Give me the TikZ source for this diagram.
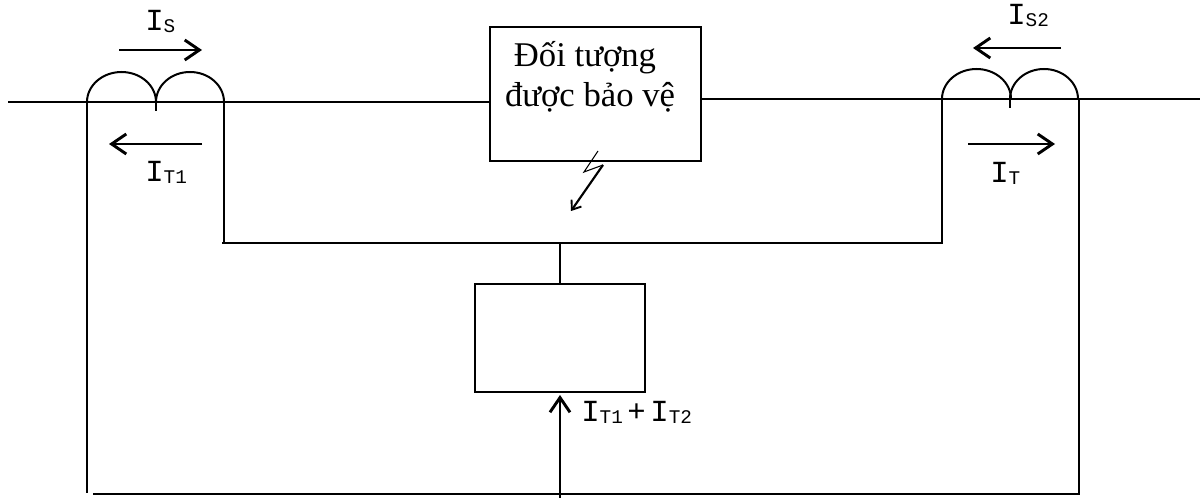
\documentclass[tikz,border=0pt]{standalone}
\usepackage{fontspec}
\setmainfont{Liberation Serif}
\newfontfamily\monofont{Liberation Mono}
\usetikzlibrary{calc,arrows.meta}

\newcommand{\curI}[1]{{\fontsize{23}{23}\monofont I\lower1pt\hbox{\fontsize{14.5}{14.5}\monofont #1}}}

\tikzset{
  wire/.style={line width=1.5pt},
  flow/.style={line width=2.2pt,-{Straight Barb[length=11pt,width=15pt,line width=2.2pt]}},
  lbl/.style={inner sep=0pt,anchor=base west}
}

\begin{document}
\begin{tikzpicture}[x=0.75pt,y=-0.75pt]
  \useasboundingbox (0,0) rectangle (1203,498);

  %% Boxes
  \node[draw,wire,inner sep=0pt,minimum width=158.25pt,minimum height=100.5pt] (PROT) at (595,94) {};
  \node[draw,wire,inner sep=0pt,minimum width=127.5pt,minimum height=81pt] (RELAY) at (560,338) {};
  \node[align=center,inner sep=0pt,font=\fontsize{26}{30}\selectfont,anchor=base] (PROTTXT) at (590,107) {Đối tượng\hspace*{7.5pt}\null\\được bảo vệ};

  %% Current transformers: left end, middle, right end, line height
  \foreach \n/\a/\b/\c/\y in {L/87/156/224/102,R/942/1010/1079/99}
  {
    \coordinate (\n A) at (\a,\y);
    \coordinate (\n B) at (\b,\y);
    \coordinate (\n C) at (\c,\y);
    \coordinate (\n T) at (\b,\y+9);
    \draw[wire] (\n A) arc[start angle=180,end angle=0,x radius=34.5*0.75pt,y radius=30*0.75pt];
    \draw[wire] (\n B) arc[start angle=180,end angle=0,x radius=34*0.75pt,y radius=30*0.75pt];
    \draw[wire] (\n B) -- (\n T);
  }

  %% Main line
  \coordinate (LINEL) at (8,102);
  \coordinate (LINER) at (1200,99);
  \draw[line width=1.1pt] (LINEL) -- (PROT.west|-LINEL);
  \draw[line width=1.1pt] (PROT.east|-LINER) -- (LINER);

  %% Secondary wiring
  \coordinate (TOPL) at (222,243);
  \coordinate (TOPR) at (942,243);
  \coordinate (TOPM) at (560,243);
  \coordinate (BOTL) at (87,493);
  \coordinate (BOTS) at (93,494);
  \coordinate (BOTR) at (1079,494);
  \coordinate (BOTM) at (560,498);
  \draw[wire] (LA) -- (BOTL);
  \draw[wire] (LC) -- (LC|-TOPL);
  \draw[wire] (TOPL) -- (TOPR) -- (RA);
  \draw[wire] (RC) -- (BOTR) -- (BOTS);
  \draw[wire] (TOPM) -- (RELAY.north-|TOPM);
  \draw[flow] (BOTM) -- ($(RELAY.south-|BOTM)+(0,2)$);

  %% Current arrows
  \coordinate (ISs) at (119,50);   \coordinate (ISe) at (202,50);
  \coordinate (ITAs) at (202,144); \coordinate (ITAe) at (109,144);
  \coordinate (ISBs) at (1061,48); \coordinate (ISBe) at (973,48);
  \coordinate (ITs) at (968,144);  \coordinate (ITe) at (1055,144);
  \foreach \n in {IS,ITA,ISB,IT}
    \draw[flow] (\n s) -- (\n e);

  %% Labels
  \node[lbl] (LIS) at (145,31) {\curI{S}};
  \node[lbl] (LITA) at (145,182) {\curI{T1}};
  \node[lbl] (LISB) at (1007,25) {\curI{S2}};
  \node[lbl] (LIT) at (990,183) {\curI{T}};
  \node[lbl] (LSUM) at (581,422) {\curI{T1}{\fontsize{23}{23}\monofont\kern3.4pt+\kern3.4pt}\curI{T2}};

  %% Fault bolt
  \coordinate (BOLTA) at (598,151);
  \coordinate (BOLTB) at (584,172);
  \coordinate (BOLTC) at (603,165);
  \coordinate (BOLTD) at (571,211);
  \draw[line width=0.8pt] (BOLTA) -- (BOLTB) -- (BOLTC);
  \draw[line width=1.6pt,-{Straight Barb[length=6pt,width=9pt,line width=1.4pt]}] (BOLTC) -- (BOLTD);
\end{tikzpicture}
\end{document}
